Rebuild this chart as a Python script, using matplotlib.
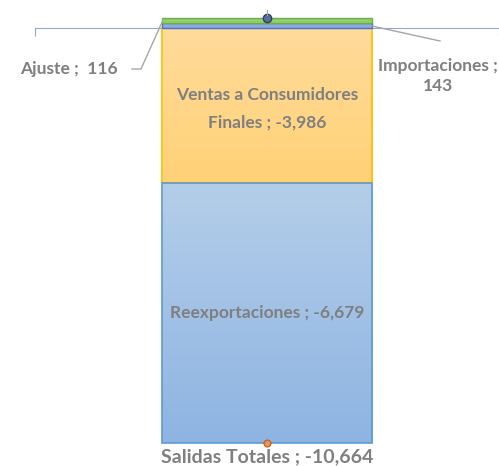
import matplotlib.pyplot as plt
import matplotlib.colors as mcolors
import numpy as np

# data
pos_names = ['Ajuste', 'Importaciones']
pos_values = [116, 143]
neg_names = ['Ventas a Consumidores\nFinales', 'Reexportaciones']
neg_values = [-3986, -6679]
total_name = 'Salidas Totales'
total_value = -10664

plt.rcParams['font.family'] = ['Lato', 'DejaVu Sans']
txt_color = '#7f7f7f'
lead_color = '#a6a6a6'

fig = plt.figure(figsize=(4.99, 4.66), dpi=100)
# axes spans pixel x 35..499, y 10..450 (top->bottom)
ax = fig.add_axes([35 / 499, 16 / 466, 464 / 499, 440 / 466])
k = 415 / 10664  # px per unit
for s in ['top', 'right', 'left']:
    ax.spines[s].set_visible(False)
ax.spines['bottom'].set_position(('data', 0))
ax.spines['bottom'].set_color('#8fa9dc')
ax.set_xticks([-0.5, 0.5])
ax.set_xticklabels([])
ax.tick_params(axis='x', direction='out', length=6, color='#8fa9dc')
ax.set_yticks([])

w = 0.4526

def gradient_bar(x, bottom, height, top_c, bot_c, edge):
    b = ax.bar(x, height, w, bottom=bottom, color='none', edgecolor=edge,
               linewidth=1.2, zorder=3)[0]
    cmap = mcolors.LinearSegmentedColormap.from_list('g', [bot_c, top_c])
    grad = np.linspace(0, 1, 256).reshape(-1, 1)
    y0, y1 = bottom, bottom + height
    im = ax.imshow(grad, cmap=cmap, aspect='auto', origin='lower',
                   extent=(x - w / 2, x + w / 2, min(y0, y1), max(y0, y1)),
                   zorder=2)
    im.set_clip_path(b)
    return b

# negative stack
gradient_bar(0, 0, neg_values[0], '#ffdc9b', '#ffd177', '#ffc000')
gradient_bar(0, neg_values[0], neg_values[1], '#b4cee9', '#8eb4e2', '#5b9bd5')

# positive stack
ax.bar(0, pos_values[0], w, bottom=0, color='#8faadc', edgecolor='#4472c4',
       linewidth=1, zorder=3)
ax.bar(0, pos_values[1], w, bottom=pos_values[0], color='#8fd16a',
       edgecolor='#70ad47', linewidth=1, zorder=3)

ax.set_xlim(-0.5, 0.5)
ax.set_ylim(-(450 - 28) / k, (28 - 10) / k)

# markers for totals
pos_total = sum(pos_values)
ax.plot([0], [pos_total], 'o', ms=6, mfc='#5b6f9e', mec='#2f3f66', mew=1,
        zorder=5)
ax.plot([0, 0], [pos_total + 80, pos_total + 200], color=lead_color, lw=0.8,
        zorder=5)
ax.plot([0], [total_value], 'o', ms=5, mfc='#e8955c', mec='#c55a11', mew=0.8,
        zorder=5, clip_on=False)

fs = 12.5
# inner labels
ax.text(0, neg_values[0] / 2 - 80, f'{neg_names[0]} ; {neg_values[0]:,}',
        ha='center', va='center', fontsize=fs, fontweight='bold',
        color=txt_color, linespacing=1.85, zorder=6)
ax.text(0, neg_values[0] + neg_values[1] / 2,
        f'{neg_names[1]} ; {neg_values[1]:,}', ha='center', va='center',
        fontsize=fs, fontweight='bold', color=txt_color, zorder=6)

# Ajuste label + leader line
ax.text(-0.321, -1054, f'{pos_names[0]} ;  {pos_values[0]}', ha='right',
        va='center', fontsize=fs, fontweight='bold', color=txt_color)
ax.plot([-0.291, -0.2716, -0.2241], [-1054, -1054, 206], color=lead_color,
        lw=1, zorder=4)

# Importaciones label + leader line
ax.text(0.3685, -1233, f'{pos_names[1]} ;\n{pos_values[1]}', ha='center',
        va='center', fontsize=fs, fontweight='bold', color=txt_color,
        linespacing=1.35)
ax.plot([w / 2, 0.3728], [51, -334], color=lead_color, lw=1, zorder=4)

ax.text(0, total_value - 14 / k, f'{total_name} ; {total_value:,}',
        ha='center', va='center', fontsize=14, fontweight='bold',
        color=txt_color, clip_on=False)

fig.savefig('out.png', dpi=100)
